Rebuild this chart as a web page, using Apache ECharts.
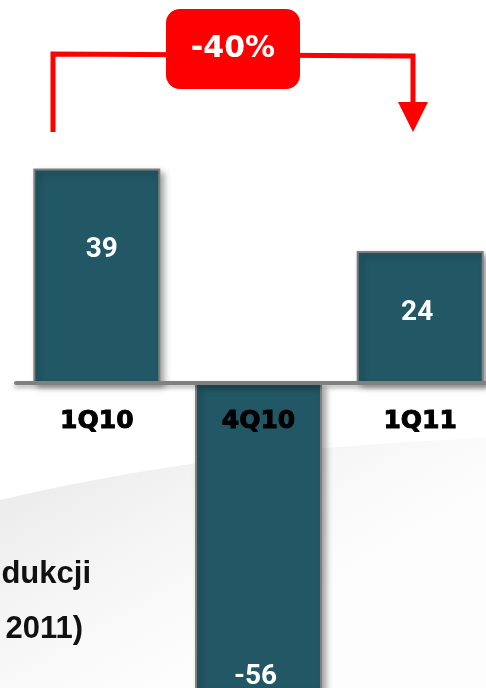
<!DOCTYPE html>
<html>
<head>
<meta charset="utf-8">
<script src="https://cdn.jsdelivr.net/npm/echarts@6/dist/echarts.min.js"></script>
<style>
  html, body { margin: 0; padding: 0; background: #fff; }
  #main { width: 486px; height: 688px; }
</style>
</head>
<body>
<div id="main"></div>
<script>
// dane wykresu
var categories = ['1Q10', '4Q10', '1Q11'];
var values = [39, -56, 24];
var changeLabel = '-40%';

// zakres osi Y
var yMin = -57;
var yMax = 49;

// ustawienie etykiet wartosci na slupkach
var labelPlacement = [
  { position: 'inside', offset: [5, -26] },
  { position: 'insideBottom', distance: 0, offset: [-3, 0] },
  { position: 'inside', offset: [-3, -4] }
];

var gridTop = 113.5;
var gridHeight = 583;
// etykiety kategorii maja stac pod linia zera, a nie na dole siatki
var zeroOffset = gridHeight * (0 - yMin) / (yMax - yMin);

// szary luk w tle (krzywa kwadratowa)
var swoosh = [];
for (var t = 0; t <= 1.0001; t += 0.05) {
  var x = 2 * (1 - t) * t * 220 + t * t * 486;
  var y = (1 - t) * (1 - t) * 500 + 2 * (1 - t) * t * 448 + t * t * 438;
  swoosh.push([x, y]);
}
swoosh.push([486, 688], [0, 688]);

var myChart = echarts.init(document.getElementById('main'));

myChart.setOption({
  backgroundColor: '#fff',
  animation: false,
  grid: { left: 16, top: gridTop, width: 485, height: gridHeight, outerBoundsMode: 'none', containLabel: false },
  xAxis: {
    type: 'category',
    data: categories,
    z: 10,
    axisLine: {
      onZero: true,
      lineStyle: {
        color: '#808080',
        width: 4,
        shadowColor: 'rgba(0,0,0,0.3)',
        shadowBlur: 4,
        shadowOffsetY: 3
      }
    },
    axisTick: { show: false },
    axisLabel: {
      margin: 26 - zeroOffset,
      color: '#000',
      fontFamily: 'DejaVu Sans',
      fontWeight: 'bold',
      fontSize: 25,
      textBorderColor: '#000',
      textBorderWidth: 1
    }
  },
  yAxis: {
    type: 'value',
    min: yMin,
    max: yMax,
    show: false,
    splitLine: { show: false }
  },
  series: [{
    type: 'bar',
    barWidth: 127,
    z: 2,
    itemStyle: {
      color: '#225866',
      borderColor: '#7f7f7f',
      borderWidth: 2,
      shadowColor: 'rgba(0,0,0,0.35)',
      shadowBlur: 6,
      shadowOffsetX: 4,
      shadowOffsetY: 4
    },
    label: {
      show: true,
      color: '#fff',
      fontFamily: "'Liberation Sans Narrow', Roboto, sans-serif",
      fontWeight: 'bold',
      fontSize: 28
    },
    data: values.map(function (v, i) {
      return { value: v, label: labelPlacement[i] };
    })
  }],
  graphic: [
    {
      type: 'polygon',
      z: -10,
      silent: true,
      shape: { points: swoosh },
      style: {
        fill: {
          type: 'linear', x: 0, y: 0, x2: 0.3, y2: 1,
          colorStops: [
            { offset: 0, color: '#e7e7e7' },
            { offset: 0.5, color: '#f4f4f4' },
            { offset: 1, color: '#fdfdfd' }
          ]
        }
      }
    },
    {
      type: 'text', z: 1, x: 91, y: 574,
      style: { text: 'dukcji', align: 'right', verticalAlign: 'middle',
        font: 'bold 31px "Liberation Sans", Arial, sans-serif', fill: '#111' }
    },
    {
      type: 'text', z: 1, x: 83, y: 629,
      style: { text: '2011)', align: 'right', verticalAlign: 'middle',
        font: 'bold 31px "Liberation Sans", Arial, sans-serif', fill: '#111' }
    },
    {
      // strzalka zmiany
      type: 'polyline', z: 20,
      shape: { points: [[53, 132], [53, 54], [413, 56], [413, 104]] },
      style: { stroke: '#ff0000', lineWidth: 5, fill: null, lineJoin: 'miter' }
    },
    {
      type: 'polygon', z: 20,
      shape: { points: [[398, 102], [428, 102], [413, 132]] },
      style: { fill: '#ff0000' }
    },
    {
      type: 'rect', z: 21,
      shape: { x: 166, y: 9, width: 134, height: 80, r: 14 },
      style: { fill: '#ff0000' }
    },
    {
      type: 'text', z: 22, x: 233, y: 49,
      style: { text: changeLabel, align: 'center', verticalAlign: 'middle',
        font: 'bold 30px "DejaVu Sans", sans-serif', fill: '#fff' }
    }
  ]
});
</script>
</body>
</html>
